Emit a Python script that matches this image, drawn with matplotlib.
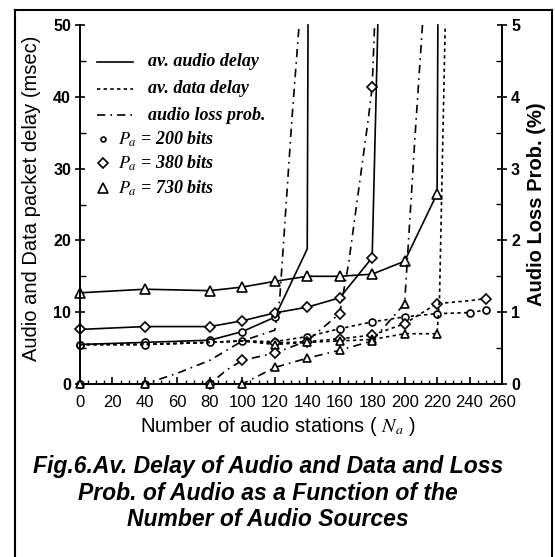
import matplotlib
matplotlib.use("Agg")
import matplotlib.pyplot as plt
from matplotlib.lines import Line2D
from matplotlib.ticker import MultipleLocator

# ---------------- data ----------------
# audio delay (msec) - solid lines
n_aud_200 = [0, 40, 80, 100, 120, 140, 140.5]
aud_200 = [5.5, 5.8, 6.1, 7.3, 9.3, 18.8, 50]
n_aud_380 = [0, 40, 80, 100, 120, 140, 160, 180, 183.5]
aud_380 = [7.6, 8.0, 8.0, 8.8, 9.9, 10.7, 12.0, 17.6, 50]
n_aud_730 = [0, 40, 80, 100, 120, 140, 160, 180, 200, 220, 220.5]
aud_730 = [12.7, 13.2, 13.0, 13.5, 14.3, 15.0, 15.0, 15.3, 17.1, 26.5, 50]

# data delay (msec) - dashed lines
n_dat_200 = [0, 40, 80, 100, 120, 140, 160, 180, 200, 220, 240, 250]
dat_200 = [5.5, 5.5, 5.8, 6.0, 5.9, 6.6, 7.7, 8.65, 9.35, 9.8, 9.95, 10.3]
n_dat_380 = [0, 40, 80, 100, 120, 140, 160, 180, 200, 220, 240, 250]
dat_380 = [5.5, 5.5, 5.8, 6.0, 5.7, 5.9, 6.3, 6.8, 8.4, 11.2, 11.6, 11.9]
n_dat_730 = [0, 40, 80, 100, 120, 140, 160, 180, 200, 220, 221.5, 225]
dat_730 = [5.5, 5.5, 5.8, 6.0, 5.5, 5.8, 6.0, 6.2, 7.0, 7.0, 12.0, 50]

# audio loss probability (%) - dash-dot lines, right axis
n_los_200 = [0, 40, 60, 80, 100, 120, 123, 130.5, 135]
los_200 = [0, 0, 0.15, 0.33, 0.6, 0.75, 1.17, 3.67, 5.0]
n_los_380 = [0, 40, 80, 90, 100, 120, 140, 160, 165.5, 177.5, 180, 181.5]
los_380 = [0, 0, 0, 0.19, 0.33, 0.43, 0.6, 0.98, 1.68, 3.67, 4.13, 5.0]
n_los_730 = [0, 40, 80, 100, 120, 140, 160, 180, 200, 206.5, 211]
los_730 = [0, 0, 0, 0, 0.23, 0.36, 0.47, 0.6, 1.12, 3.48, 5.0]

x_ticks = list(range(0, 261, 20))
left_ticks = [0, 10, 20, 30, 40, 50]
right_ticks = [0, 1, 2, 3, 4, 5]

legend_lines = ["av. audio delay", "av. data delay", "audio loss prob."]
legend_marks = [r"$P_a$ = 200 bits", r"$P_a$ = 380 bits", r"$P_a$ = 730 bits"]
caption = ["Fig.6.Av. Delay of Audio and Data and Loss",
           "Prob. of Audio as a Function of the",
           "Number of Audio Sources"]

# ---------------- style ----------------
plt.rcParams['font.family'] = ['Liberation Sans', 'DejaVu Sans']
plt.rcParams['mathtext.fontset'] = 'stix'

W, H = 555, 557
fig = plt.figure(figsize=(W / 100, H / 100), dpi=100)
fig.patch.set_facecolor('white')

def fx(px):
    return px / W

def fy(py):
    return 1 - py / H

ax = fig.add_axes([fx(80), fy(384), fx(502) - fx(80), fy(25) - fy(384)])
ax2 = ax.twinx()

SOLID = '-'
DASH = (0, (2.0, 2.0))
DASHDOT = (0, (5, 3, 1, 3))
lw = 1.2
mk = dict(markerfacecolor='white', markeredgecolor='black', markeredgewidth=1.2,
          color='black', clip_on=False)

# audio delay
ax.plot(n_aud_200, aud_200, linestyle=SOLID, lw=lw, marker='o', ms=5,
        markevery=[0, 1, 2, 3, 4], **mk)
ax.plot(n_aud_380, aud_380, linestyle=SOLID, lw=lw, marker='D', ms=5,
        markevery=[0, 1, 2, 3, 4, 5, 6, 7], **mk)
ax.plot(n_aud_730, aud_730, linestyle=SOLID, lw=lw, marker='^', ms=7,
        markevery=list(range(10)), **mk)

# data delay
ax.plot(n_dat_200, dat_200, linestyle=DASH, lw=lw, marker='o', ms=5,
        markevery=list(range(12)), **mk)
ax.plot(n_dat_380, dat_380, linestyle=DASH, lw=lw, marker='D', ms=5,
        markevery=[4, 5, 6, 7, 8, 9, 11], **mk)
ax.plot(n_dat_730, dat_730, linestyle=DASH, lw=lw, marker='^', ms=6,
        markevery=[4, 5, 6, 7, 8, 9], **mk)

# loss probability
ax2.plot(n_los_200, los_200, linestyle=DASHDOT, lw=lw, marker='o', ms=5,
         markevery=[0, 1], **mk)
ax2.plot(n_los_380, los_380, linestyle=DASHDOT, lw=lw, marker='D', ms=5,
         markevery=[2, 4, 5, 7, 10], **mk)
ax2.plot(n_los_730, los_730, linestyle=DASHDOT, lw=lw, marker='^', ms=6,
         markevery=[0, 1, 2, 3, 4, 5, 6, 7, 8], **mk)

ax.set_xlim(0, 260)
ax.set_ylim(0, 50)
ax2.set_ylim(0, 5)

for a in (ax, ax2):
    a.spines['top'].set_visible(False)
    for s in a.spines.values():
        s.set_linewidth(1.4)
ax.spines['right'].set_visible(False)
ax2.spines['left'].set_visible(False)
ax2.spines['bottom'].set_visible(False)

ax.set_xticks(x_ticks)
ax.xaxis.set_minor_locator(MultipleLocator(5))
ax.set_yticks(left_ticks)
ax.yaxis.set_minor_locator(MultipleLocator(5))
ax2.set_yticks(right_ticks)
ax2.yaxis.set_minor_locator(MultipleLocator(0.5))

ax.tick_params(axis='x', which='major', direction='in', length=5, width=1.2,
               labelsize=12, pad=8)
ax.tick_params(axis='x', which='minor', direction='in', length=3, width=1.0)
ax.tick_params(axis='y', which='major', direction='inout', length=7, width=1.2,
               labelsize=11.5, pad=3)
ax.tick_params(axis='y', which='minor', direction='in', length=4, width=1.0)
ax2.tick_params(axis='y', which='major', direction='inout', length=7, width=1.2,
                labelsize=11.5, pad=3)
ax2.tick_params(axis='y', which='minor', direction='in', length=4, width=1.0)
for lab in ax.get_yticklabels() + ax2.get_yticklabels():
    lab.set_fontweight('bold')

# manual legend
row_y = [0.897, 0.822, 0.749, 0.682, 0.616, 0.546]
styles = [SOLID, DASH, DASHDOT]
for i, (lab, ls) in enumerate(zip(legend_lines, styles)):
    ax.add_line(Line2D([0.040, 0.126], [row_y[i], row_y[i]], transform=ax.transAxes,
                       color='black', lw=1.2, linestyle=ls))
    ax.text(0.161, row_y[i], lab, transform=ax.transAxes, va='center', ha='left',
            family='Liberation Serif', style='italic', weight='bold', fontsize=13)
for i, (lab, m, s) in enumerate(zip(legend_marks, ['o', 'D', '^'], [3.5, 5, 7])):
    y = row_y[3 + i]
    ax.add_line(Line2D([0.055], [y], transform=ax.transAxes, marker=m, ms=s,
                       markerfacecolor='white', markeredgecolor='black',
                       markeredgewidth=1.2, linestyle='none'))
    ax.text(0.090, y, lab, transform=ax.transAxes, va='center', ha='left',
            family='Liberation Serif', style='italic', weight='bold', fontsize=13)

# axis labels
fig.text(fx(32), fy(198), "Audio and Data packet delay (msec)", rotation=90,
         ha='center', va='center', fontsize=14.5)
fig.text(fx(536), fy(204), "Audio Loss Prob. (%)", rotation=90,
         ha='center', va='center', fontsize=14.5, weight='bold')
fig.text(fx(278), fy(427), r"Number of audio stations ( $N_a$ )",
         ha='center', va='center', fontsize=14.5)

# caption
for txt, py in zip(caption, [466, 493, 520]):
    fig.text(fx(268), fy(py), txt, ha='center', va='center', fontsize=16.5,
             weight='bold', style='italic')

# scanned frame
fig.add_artist(Line2D([fx(15), fx(552)], [fy(10), fy(10)], color='black', lw=1.5,
                      transform=fig.transFigure))
fig.add_artist(Line2D([fx(15), fx(15)], [fy(10), fy(557)], color='black', lw=1.5,
                      transform=fig.transFigure))
fig.add_artist(Line2D([fx(552), fx(552)], [fy(10), fy(557)], color='black', lw=1.5,
                      transform=fig.transFigure))

fig.savefig("out.png", dpi=100)
